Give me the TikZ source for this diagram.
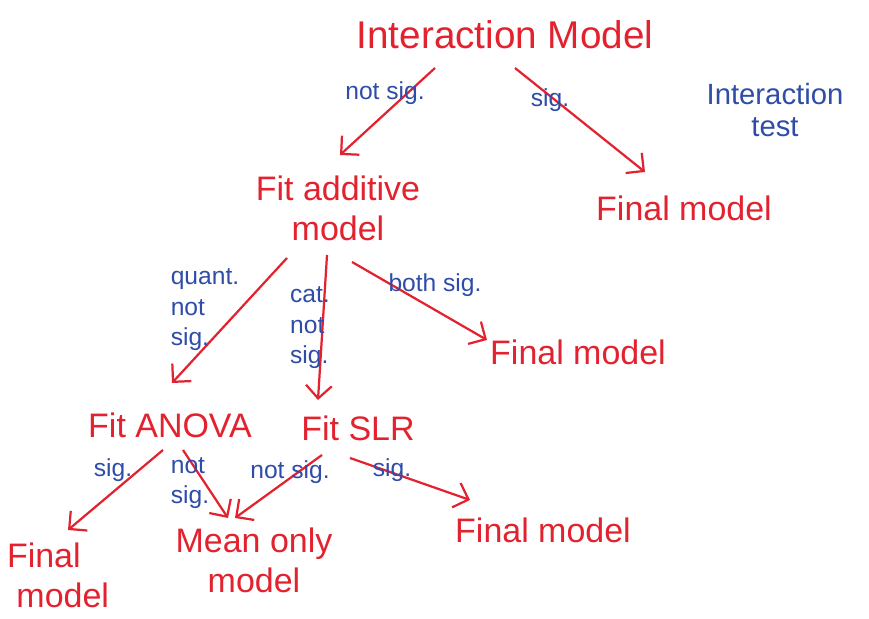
\documentclass[tikz,border=0pt]{standalone}
\usepackage{fontspec}
\setmainfont{Liberation Sans}
\usepackage{tikz}
\usetikzlibrary{arrows.meta, positioning}
\definecolor{penred}{RGB}{226,34,46}
\definecolor{penblue}{RGB}{46,76,168}
\tikzset{
  modelnode/.style={text=penred, align=center, inner sep=1pt,
    font=\fontsize{29}{34}\selectfont},
  testlabel/.style={text=penblue, align=left, inner sep=1pt,
    font=\fontsize{21}{26}\selectfont},
  penarrow/.style={-{Straight Barb[length=11pt, width=22pt, line width=1.9pt]},
    line width=1.9pt, color=penred}
}

\begin{document}
\begin{tikzpicture}
  \useasboundingbox (0,0) rectangle (26.07,18.57);

  % Models
  \node[modelnode, font=\fontsize{33}{36}\selectfont] (inter) at (15.15,17.52) {Interaction Model};
  \node[modelnode] (additive) at (10.14,12.33) {Fit additive\\model};
  \node[modelnode] (finalA) at (20.52,12.33) {Final model};
  \node[modelnode] (finalB) at (17.34,8.01) {Final model};
  \node[modelnode] (anova) at (5.10,5.82) {Fit ANOVA};
  \node[modelnode] (slr) at (10.74,5.73) {Fit SLR};
  \node[modelnode] (finalC) at (16.29,2.67) {Final model};
  \node[modelnode] (meanonly) at (7.62,1.77) {Mean only\\model};
  \node[modelnode, align=left] (finalD) at (1.74,1.32) {Final\\\ model};

  % Arrows
  \draw[penarrow] ([shift={(-2.1,-0.99)}]inter.center) -- ([shift={(0.06,1.59)}]additive.center);
  \draw[penarrow] ([shift={(0.3,-0.99)}]inter.center) -- ([shift={(-1.17,1.08)}]finalA.center);
  \draw[penarrow] ([shift={(-1.53,-1.5)}]additive.center) -- ([shift={(0.06,1.26)}]anova.center);
  \draw[penarrow] ([shift={(-0.33,-1.41)}]additive.center) -- ([shift={(-1.2,0.84)}]slr.center);
  \draw[penarrow] ([shift={(0.42,-1.62)}]additive.center) -- ([shift={(-2.73,0.36)}]finalB.center);
  \draw[penarrow] ([shift={(-0.21,-0.75)}]anova.center) -- ([shift={(0.3,1.35)}]finalD.center);
  \draw[penarrow] ([shift={(0.39,-0.75)}]anova.center) -- ([shift={(-0.78,1.26)}]meanonly.center);
  \draw[penarrow] ([shift={(-1.08,-0.81)}]slr.center) -- ([shift={(-0.57,1.26)}]meanonly.center);
  \draw[penarrow] ([shift={(-0.24,-0.9)}]slr.center) -- ([shift={(-2.19,0.9)}]finalC.center);

  % Test results
  \node[testlabel] (notsigA) at (11.55,15.78) {not sig.};
  \node[testlabel] (sigA) at (16.5,15.57) {sig.};
  \node[testlabel, align=center, font=\fontsize{25}{28}\selectfont] (itest) at (23.25,15.27) {Interaction\\test};
  \node[testlabel] (quant) at (6.15,9.27) {quant.\\not\\sig.};
  \node[testlabel] (cat) at (9.3,8.73) {cat.\\not\\sig.};
  \node[testlabel] (bothsig) at (13.05,10.02) {both sig.};
  \node[testlabel] (sigB) at (3.39,4.47) {sig.};
  \node[testlabel] (notsigB) at (5.7,4.08) {not\\sig.};
  \node[testlabel] (notsigC) at (8.7,4.41) {not sig.};
  \node[testlabel] (sigC) at (11.76,4.47) {sig.};
\end{tikzpicture}
\end{document}
